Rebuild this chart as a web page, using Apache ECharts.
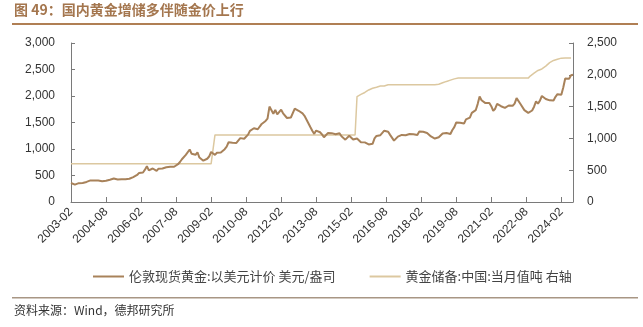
<!DOCTYPE html>
<html>
<head>
<meta charset="utf-8">
<script src="https://cdn.jsdelivr.net/npm/echarts@6/dist/echarts.min.js"></script>
<style>
html,body{margin:0;padding:0;background:#fff;}
#c{width:643px;height:327px;}
</style>
</head>
<body>
<div id="c"></div>
<script>
var startYear = 2003, startMonth = 2, monthCount = 259;
var categories = [];
for (var i = 0; i < monthCount; i++) {
  var m = startMonth - 1 + i;
  var y = startYear + Math.floor(m / 12);
  var mm = (m % 12) + 1;
  categories.push(y + '-' + (mm < 10 ? '0' + mm : mm));
}

var goldPrice = [
  359, 340, 328, 355, 356, 351, 360, 379, 379, 389, 407,
  414, 405, 406, 404, 384, 392, 398, 400, 406, 420, 439, 442,
  424, 423, 434, 429, 422, 431, 424, 438, 456, 470, 476, 510,
  549, 555, 557, 610, 676, 596, 633, 632, 599, 586, 628, 629,
  631, 665, 655, 680, 667, 655, 665, 665, 713, 754, 806, 803,
  889, 922, 990, 909, 888, 890, 939, 839, 830, 780, 760, 816,
  858, 943, 924, 890, 928, 946, 934, 949, 996, 1043, 1127, 1134,
  1118, 1095, 1114, 1149, 1205, 1232, 1193, 1215, 1271, 1343, 1370, 1391,
  1356, 1372, 1424, 1473, 1510, 1529, 1572, 1800, 1780, 1665, 1739, 1652,
  1656, 1742, 1674, 1650, 1585, 1596, 1594, 1626, 1760, 1760, 1721, 1688,
  1671, 1627, 1593, 1487, 1414, 1343, 1286, 1347, 1349, 1316, 1275, 1221,
  1244, 1300, 1336, 1299, 1287, 1279, 1311, 1296, 1239, 1222, 1176, 1200,
  1251, 1227, 1178, 1198, 1199, 1181, 1128, 1117, 1125, 1157, 1086, 1068,
  1097, 1200, 1246, 1242, 1260, 1276, 1345, 1341, 1326, 1267, 1238, 1157,
  1192, 1234, 1231, 1266, 1246, 1260, 1236, 1283, 1314, 1280, 1282, 1265,
  1331, 1331, 1325, 1335, 1303, 1282, 1238, 1202, 1198, 1215, 1221, 1250,
  1291, 1320, 1300, 1285, 1284, 1359, 1413, 1500, 1510, 1495, 1471, 1480,
  1560, 1597, 1592, 1683, 1716, 1732, 1847, 1990, 1921, 1900, 1866, 1858,
  1867, 1808, 1718, 1760, 1850, 1834, 1807, 1785, 1775, 1777, 1821, 1790,
  1817, 1856, 1960, 1937, 1849, 1836, 1733, 1764, 1681, 1664, 1726, 1798,
  1898, 1855, 1913, 2000, 1992, 1943, 1951, 1918, 1916, 1916, 1985, 2034,
  2034, 2024, 2159, 2331, 2352, 2326, 2393, 2400
];

var goldReserve = [
  600, 600, 600, 600, 600, 600, 600, 600, 600, 600, 600,
  600, 600, 600, 600, 600, 600, 600, 600, 600, 600, 600, 600,
  600, 600, 600, 600, 600, 600, 600, 600, 600, 600, 600, 600,
  600, 600, 600, 600, 600, 600, 600, 600, 600, 600, 600, 600,
  600, 600, 600, 600, 600, 600, 600, 600, 600, 600, 600, 600,
  600, 600, 600, 600, 600, 600, 600, 600, 600, 600, 600, 600,
  600, 600, 600, 1054, 1054, 1054, 1054, 1054, 1054, 1054, 1054, 1054,
  1054, 1054, 1054, 1054, 1054, 1054, 1054, 1054, 1054, 1054, 1054, 1054,
  1054, 1054, 1054, 1054, 1054, 1054, 1054, 1054, 1054, 1054, 1054, 1054,
  1054, 1054, 1054, 1054, 1054, 1054, 1054, 1054, 1054, 1054, 1054, 1054,
  1054, 1054, 1054, 1054, 1054, 1054, 1054, 1054, 1054, 1054, 1054, 1054,
  1054, 1054, 1054, 1054, 1054, 1054, 1054, 1054, 1054, 1054, 1054, 1054,
  1054, 1054, 1054, 1054, 1658, 1677, 1693, 1708, 1722, 1743, 1762,
  1778, 1788, 1798, 1805, 1808, 1823, 1823, 1823, 1838, 1843, 1843, 1843,
  1843, 1843, 1843, 1843, 1843, 1843, 1843, 1843, 1843, 1843, 1843, 1843,
  1843, 1843, 1843, 1843, 1843, 1843, 1843, 1843, 1843, 1843, 1843, 1852,
  1864, 1874, 1885, 1896, 1912, 1916, 1926, 1936, 1948, 1948, 1948, 1948,
  1948, 1948, 1948, 1948, 1948, 1948, 1948, 1948, 1948, 1948, 1948, 1948,
  1948, 1948, 1948, 1948, 1948, 1948, 1948, 1948, 1948, 1948, 1948, 1948,
  1948, 1948, 1948, 1948, 1948, 1948, 1948, 1948, 1948, 1948, 1980, 2010,
  2025, 2050, 2068, 2076, 2092, 2113, 2137, 2165, 2192, 2215, 2226, 2235,
  2245, 2257, 2262, 2264, 2264, 2264, 2264, 2264
];

var seriesNames = ['伦敦现货黄金:以美元计价 美元/盎司', '黄金储备:中国:当月值吨 右轴'];
var titleText = '图 49：国内黄金增储多伴随金价上行';
var sourceText = '资料来源：Wind，德邦研究所';

function commas(v) { return String(v).replace(/\B(?=(\d{3})+(?!\d))/g, ','); }

var chart = echarts.init(document.getElementById('c'), null, {renderer: 'canvas'});
var axisColor = '#7a7a7a';
var labelColor = '#333';
chart.setOption({
  animation: false,
  backgroundColor: '#fff',
  textStyle: {fontFamily: 'Liberation Sans, Arial, sans-serif'},
  grid: {left: 71, right: 70, top: 43, bottom: 125, containLabel: false},
  legend: {
    left: 88, top: 265, itemGap: 34, itemWidth: 31, itemHeight: 2, icon: 'rect',
    textStyle: {fontSize: 13, color: '#444', fontFamily: 'Noto Sans CJK SC'},
    data: seriesNames
  },
  graphic: [
    {type: 'text', left: 14, top: 3, style: {text: titleText, fill: '#a4764e', font: 'bold 14px "Noto Sans CJK SC"'}},
    {type: 'rect', shape: {x: 12, y: 23, width: 626, height: 2}, style: {fill: '#b07f54'}},
    {type: 'rect', shape: {x: 12, y: 297, width: 626, height: 1.5}, style: {fill: '#a89684'}},
    {type: 'text', left: 14, top: 304, style: {text: sourceText, fill: '#333', font: '12px "Noto Sans CJK SC"'}}
  ],
  xAxis: {
    type: 'category', data: categories, boundaryGap: false,
    axisLine: {lineStyle: {color: axisColor, width: 1}},
    axisTick: {inside: true, length: 5, interval: 17, lineStyle: {color: axisColor}},
    axisLabel: {interval: 17, rotate: 45, margin: 8, fontSize: 12, color: labelColor},
    splitLine: {show: false}
  },
  yAxis: [
    {
      type: 'value', min: 0, max: 3000, interval: 500,
      axisLine: {show: true, lineStyle: {color: axisColor}},
      axisTick: {show: true, inside: true, length: 4, lineStyle: {color: axisColor}},
      axisLabel: {fontSize: 12, color: labelColor, margin: 16, formatter: commas},
      splitLine: {show: false}
    },
    {
      type: 'value', min: 0, max: 2500, interval: 500,
      axisLine: {show: true, lineStyle: {color: axisColor}},
      axisTick: {show: true, inside: true, length: 4, lineStyle: {color: axisColor}},
      axisLabel: {fontSize: 12, color: labelColor, margin: 14, formatter: commas},
      splitLine: {show: false}
    }
  ],
  series: [
    {
      name: seriesNames[0], type: 'line', data: goldPrice, yAxisIndex: 0,
      symbol: 'none', lineStyle: {color: '#a8825a', width: 2}, itemStyle: {color: '#a8825a'}, z: 3
    },
    {
      name: seriesNames[1], type: 'line', data: goldReserve, yAxisIndex: 1,
      symbol: 'none', lineStyle: {color: '#dcc8a0', width: 1.5}, itemStyle: {color: '#dcc8a0'}, z: 2
    }
  ]
});
</script>
</body>
</html>
